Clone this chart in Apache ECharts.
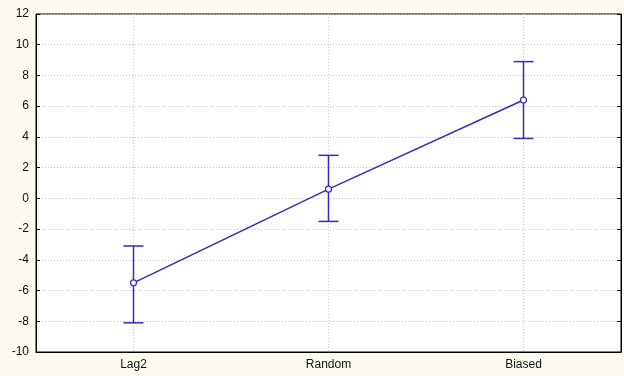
<!DOCTYPE html>
<html>
<head>
<meta charset="utf-8">
<script src="https://cdn.jsdelivr.net/npm/echarts@6/dist/echarts.min.js"></script>
<style>
  html, body { margin: 0; padding: 0; background: #fdfbef; }
  #main { width: 624px; height: 376px; }
</style>
</head>
<body>
<div id="main"></div>
<script>
// categories and values
let categories = ['Lag2', 'Random', 'Biased'];
let means = [-5.5, 0.6, 6.4];
let lower = [-8.1, -1.5, 3.9];
let upper = [-3.1, 2.8, 8.9];
let yTicks = { min: -10, max: 12, interval: 2 };

const blue = '#2e2ec4';

let chart = echarts.init(document.getElementById('main'));

let errData = categories.map((c, i) => [i, lower[i], upper[i]]);

let option = {
  backgroundColor: '#fdfbef',
  animation: false,
  textStyle: { fontFamily: 'Liberation Sans, Arial, sans-serif' },
  grid: {
    left: 36, right: 3, top: 14, bottom: 24,
    show: true, backgroundColor: '#fff', borderColor: '#000', borderWidth: 1
  },
  xAxis: {
    type: 'category',
    data: categories,
    boundaryGap: true,
    axisLine: { onZero: false, lineStyle: { color: '#000' } },
    axisTick: { inside: true, alignWithLabel: true, length: 4, lineStyle: { color: '#000' } },
    axisLabel: { color: '#111', fontSize: 12, margin: 7 },
    splitLine: { show: true, alignWithLabel: true, lineStyle: { color: '#c4c4c4', type: [1, 2] } }
  },
  yAxis: [{
    type: 'value',
    min: yTicks.min, max: yTicks.max, interval: yTicks.interval,
    axisLine: { show: true, lineStyle: { color: '#000' } },
    axisTick: { show: true, inside: true, length: 4, lineStyle: { color: '#000' } },
    axisLabel: { color: '#111', fontSize: 12, margin: 7 },
    splitLine: { lineStyle: { color: '#c4c4c4', type: [1, 2] } }
  }, {
    type: 'value',
    position: 'right',
    min: yTicks.min, max: yTicks.max, interval: yTicks.interval,
    axisLine: { show: true, lineStyle: { color: '#000' } },
    axisTick: { show: true, inside: true, length: 4, lineStyle: { color: '#000' } },
    axisLabel: { show: false },
    splitLine: { show: false }
  }],
  series: [{
    type: 'custom',
    z: 2,
    data: errData,
    renderItem: function (params, api) {
      let x = api.value(0);
      let lo = api.coord([x, api.value(1)]);
      let hi = api.coord([x, api.value(2)]);
      let hw = 10;
      let style = { stroke: blue, lineWidth: 1.5 };
      return {
        type: 'group',
        children: [
          { type: 'line', shape: { x1: lo[0], y1: lo[1], x2: hi[0], y2: hi[1] }, style: style },
          { type: 'line', shape: { x1: lo[0] - hw, y1: lo[1], x2: lo[0] + hw, y2: lo[1] }, style: style },
          { type: 'line', shape: { x1: hi[0] - hw, y1: hi[1], x2: hi[0] + hw, y2: hi[1] }, style: style }
        ]
      };
    }
  }, {
    type: 'line',
    z: 3,
    data: means,
    symbol: 'circle',
    symbolSize: 6,
    lineStyle: { color: blue, width: 1.5 },
    itemStyle: { color: '#fff', borderColor: blue, borderWidth: 1.2 }
  }]
};

chart.setOption(option);
</script>
</body>
</html>
